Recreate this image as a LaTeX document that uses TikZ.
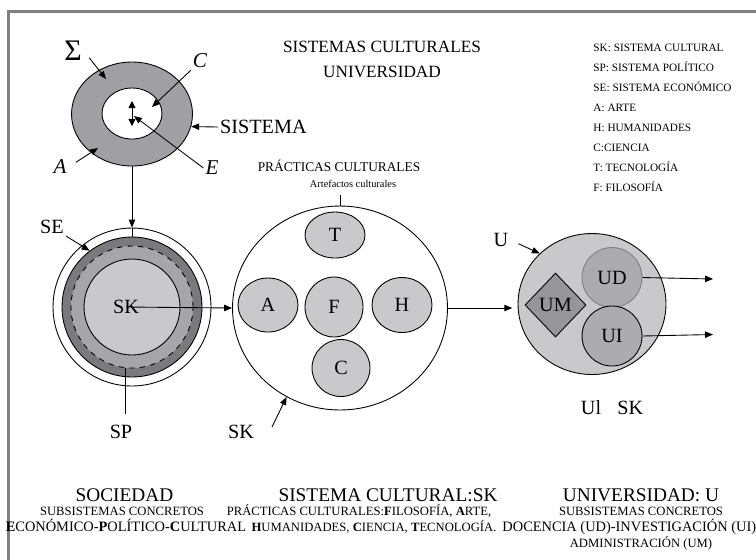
\documentclass[tikz,border=0pt]{standalone}
\usepackage{fontspec}
\setmainfont{Liberation Serif}
\usepackage{tikz}
\usetikzlibrary{shapes.geometric,arrows.meta}
\definecolor{ringgray}{RGB}{160,160,164}
\definecolor{bandgray}{RGB}{122,122,126}
\definecolor{midgray}{RGB}{166,166,170}
\definecolor{softgray}{RGB}{201,201,204}
\definecolor{subgray}{RGB}{172,172,176}
\definecolor{admgray}{RGB}{150,150,154}
\tikzstyle{blob} = [draw, ellipse, inner sep=0pt]
\tikzstyle{disc} = [draw, circle, inner sep=0pt]
\tikzstyle{tag} = [font=\fontsize{11.5}{13}\selectfont, inner sep=1pt]
\tikzstyle{var} = [font=\fontsize{12}{13}\selectfont\itshape, inner sep=1pt]
\tikzstyle{practice} = [blob, fill=softgray, tag]
\tikzstyle{keytext} = [font=\fontsize{6.4}{11.4}\selectfont, align=left, inner sep=0pt]
\tikzstyle{headline} = [font=\fontsize{11}{12}\selectfont, inner sep=0pt, anchor=base]
\tikzstyle{subline} = [font=\fontsize{7.2}{9}\selectfont, inner sep=0pt, anchor=base]
\tikzstyle{wideline} = [subline, font=\fontsize{8.2}{9}\selectfont]
\tikzstyle{arr} = [-{Triangle[length=4.5pt,width=3.6pt]}]

\begin{document}
\begin{tikzpicture}[x=0.02cm,y=-0.02cm,line width=0.5pt]
        \clip (0,0) rectangle (756,559);
        \draw[double=gray, double distance=1.2pt, line width=0.5pt] (8.5,11.5) rectangle (790,600);
        % sistema
        \node[blob, fill=ringgray, minimum width=2.42cm, minimum height=2.08cm](sys) at (132,114){};
        \node[blob, fill=white, minimum width=1.2cm, minimum height=1.02cm](core) at (132,113.5){};
        \coordinate (up) at (132,101);
        \coordinate (down) at (132,126);
        \draw[{Triangle[length=4pt,width=4pt]}-{Triangle[length=4pt,width=4pt]}](up)--(down);
        \node[font=\fontsize{17}{17}\selectfont, inner sep=1pt](sig) at (73,51){Σ};
        \node[var](cv) at (200,61){C};
        \node[var](ev) at (212,168){E};
        \node[var](av) at (60,167){A};
        \node[tag, anchor=west](sl) at (218,127){SISTEMA};
        \coordinate (sigtip) at (106,79);
        \coordinate (ctip) at (152,107);
        \coordinate (etip) at (134,116);
        \coordinate (atip) at (98,148);
        \draw[arr, shorten <=5pt](sig.east)--(sigtip);
        \draw[arr](cv.south west)--(ctip);
        \draw[arr](ev.west)--(etip);
        \draw[arr, shorten <=5pt](av.east)--(atip);
        \draw[arr](sl.west)--(sys.-12.5);
        % sociedad
        \node[disc, minimum size=3.16cm](soc) at (132,307){};
        \node[disc, fill=bandgray, minimum size=2.8cm](band) at (132,307){};
        \node[disc, fill=midgray, dashed, minimum size=2.44cm](mid) at (132,307){};
        \node[disc, fill=softgray, minimum size=1.92cm](sk) at (132,307){};
        \node[tag](skl) at (126,307){SK};
        \draw[arr](sys.south)--(soc.north);
        \draw(soc.north)--(band.north);
        \node[tag](se) at (52,227){SE};
        \draw[arr](se.south east)--(band.127);
        \node[tag](sp) at (121,432){SP};
        \draw[shorten >=5pt](mid.-96)--(mid.-96 |- sp.north);
        % sistema cultural
        \node[blob, minimum width=4.3cm, minimum height=4.08cm](prac) at (340,308){};
        \node[font=\fontsize{7.6}{8}\selectfont, inner sep=0pt](pracl) at (339,166){PRÁCTICAS CULTURALES};
        \node[font=\fontsize{5.9}{7}\selectfont, inner sep=0pt](artl) at (353,184){Artefactos culturales};
        \draw[shorten >=4pt](prac.north)--(prac.north |- artl.south);
        \node[practice, minimum width=1.2cm, minimum height=0.92cm](t) at (335,235){T};
        \node[practice, minimum width=1.2cm, minimum height=1.08cm](a) at (268,305){A};
        \node[practice, minimum width=1.16cm, minimum height=1.2cm](f) at (334,307){F};
        \node[practice, minimum width=1.2cm, minimum height=1.1cm](h) at (402,305){H};
        \node[practice, minimum width=1.16cm, minimum height=1.14cm](c) at (341,368){C};
        \draw[arr](skl.center)--(prac.west);
        \node[tag](skb) at (241,432){SK};
        \coordinate (sktail) at (272,427);
        \draw[arr](sktail)--(prac.-121);
        % universidad
        \node[blob, fill=softgray, minimum width=2.96cm, minimum height=2.82cm](univ) at (592,304){};
        \node[disc, fill=subgray, draw=gray, minimum size=1.2cm, tag](ud) at (612,277.5){UD};
        \node[disc, fill=subgray, minimum size=1.2cm, tag](ui) at (612,336){UI};
        \node[diamond, draw, fill=admgray, tag, inner sep=0pt, minimum width=1.22cm, minimum height=1.28cm](um) at (555.5,305){UM};
        \draw[arr, shorten >=3pt](prac.east)--(prac.east -| univ.west);
        \coordinate (udend) at (713,279);
        \coordinate (uiend) at (713,334.5);
        \draw[arr](ud.east)--(udend);
        \draw[arr](ui.east)--(uiend);
        \node[tag](ul) at (501,240){U};
        \draw[arr, shorten <=5pt](ul.east)--(univ.136);
        \node[tag](usk) at (612,408){Ul\hspace{0.8em}SK};
        % titulo y claves
        \node[font=\fontsize{9.8}{14.2}\selectfont, align=center, inner sep=0pt](title) at (382,59.5){SISTEMAS CULTURALES\\UNIVERSIDAD};
        \node[keytext, anchor=north west](key) at (593,43.3){SK: SISTEMA CULTURAL\\SP: SISTEMA POLÍTICO\\SE: SISTEMA ECONÓMICO\\A: ARTE\\H: HUMANIDADES\\C:CIENCIA\\T: TECNOLOGÍA\\F: FILOSOFÍA};
        % pies
        \node[headline](h1) at (124.5,501.4){SOCIEDAD};
        \node[subline](s11) at (122,515.5){SUBSISTEMAS CONCRETOS};
        \node[wideline](s12) at (126,531.5){\textbf{E}CONÓMICO-\textbf{P}OLÍTICO-\textbf{C}ULTURAL};
        \node[headline](h2) at (388,501.4){SISTEMA CULTURAL:SK};
        \node[subline](s21) at (359,515.5){PRÁCTICAS CULTURALES:\textbf{F}ILOSOFÍA, \textbf{A}RTE,};
        \node[subline](s22) at (374,531.5){\textbf{H}UMANIDADES, \textbf{C}IENCIA, \textbf{T}ECNOLOGÍA.};
        \node[headline](h3) at (641,501.4){UNIVERSIDAD: U};
        \node[subline](s31) at (641,515.5){SUBSISTEMAS CONCRETOS};
        \node[wideline, anchor=base west](s32) at (502,531.5){DOCENCIA (UD)-INVESTIGACIÓN (UI)};
        \node[subline](s33) at (641,547.5){ADMINISTRACIÓN (UM)};
      \end{tikzpicture}
\end{document}
